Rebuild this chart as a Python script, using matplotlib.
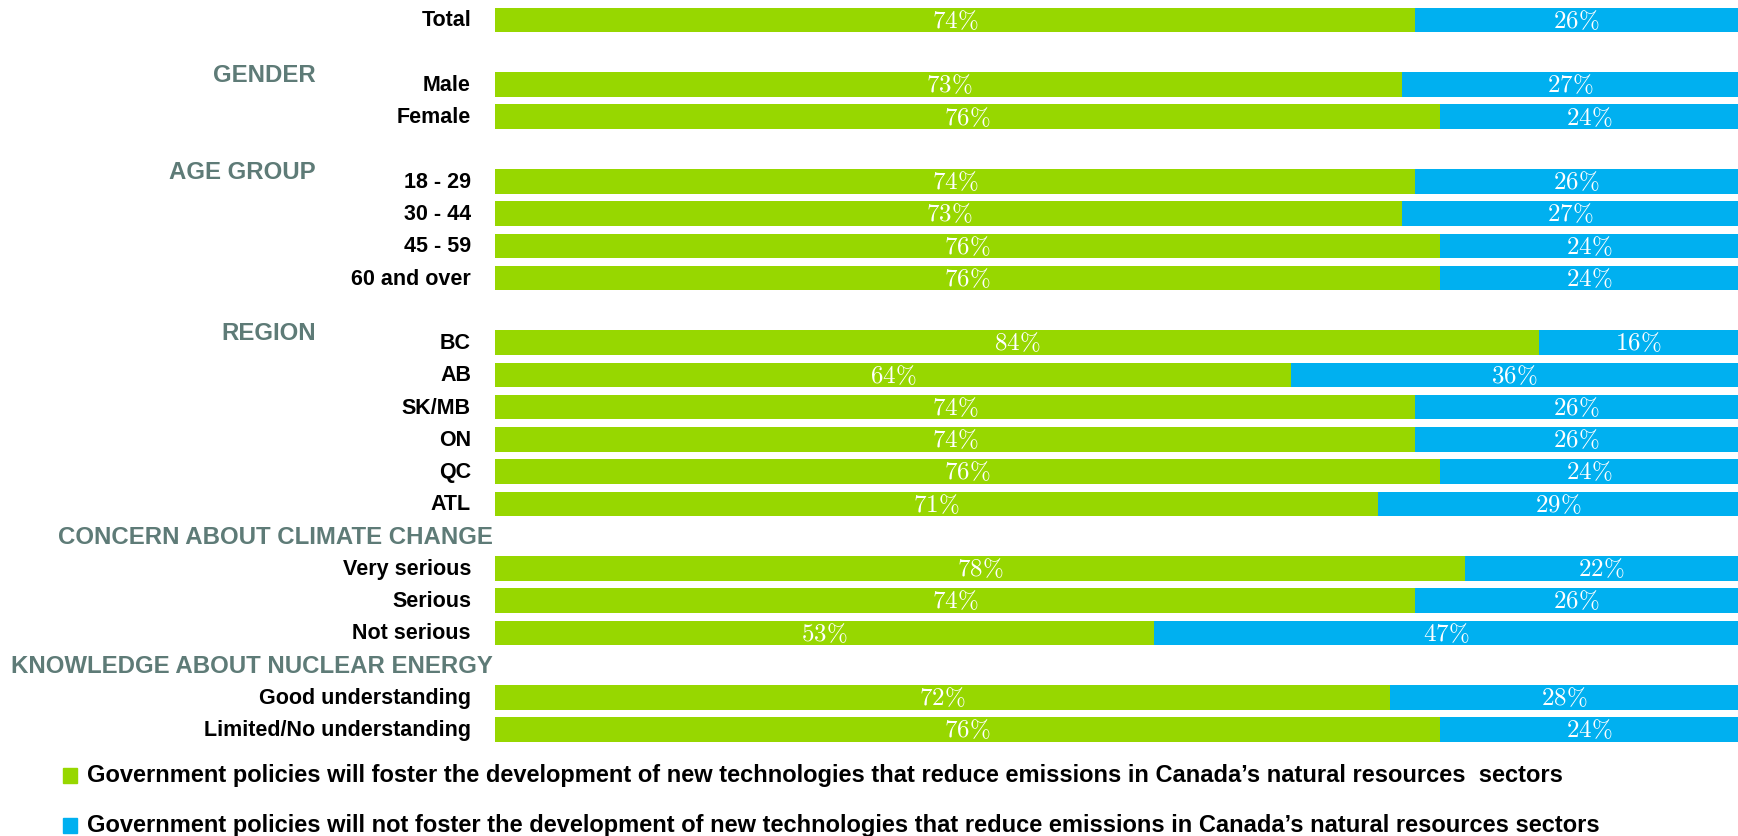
import matplotlib
matplotlib.use('Agg')
import matplotlib.pyplot as plt
import matplotlib.transforms as mtransforms
from matplotlib.patches import Rectangle

plt.rcParams['font.family'] = ['Liberation Sans', 'DejaVu Sans']
plt.rcParams['mathtext.fontset'] = 'cm'

# Data
categories = ['Total', 'Male', 'Female', '18 - 29', '30 - 44', '45 - 59', '60 and over',
              'BC', 'AB', 'SK/MB', 'ON', 'QC', 'ATL',
              'Very serious', 'Serious', 'Not serious',
              'Good understanding', 'Limited/No understanding']
foster = [74, 73, 76, 74, 73, 76, 76, 84, 64, 74, 74, 76, 71, 78, 74, 53, 72, 76]
not_foster = [26, 27, 24, 26, 27, 24, 24, 16, 36, 26, 26, 24, 29, 22, 26, 47, 28, 24]

# group header, index of first category in that group
groups = ['GENDER', 'AGE GROUP', 'REGION', 'CONCERN ABOUT CLIMATE CHANGE', 'KNOWLEDGE ABOUT NUCLEAR ENERGY']
group_start = [1, 3, 7, 13, 16]

legend_labels = [
    'Government policies will foster the development of new technologies that reduce emissions in Canada\u2019s natural resources  sectors',
    'Government policies will not foster the development of new technologies that reduce emissions in Canada\u2019s natural resources sectors',
]

green = '#97D700'
blue = '#00B0F0'
header_col = '#5E7B77'

# slot positions: one blank slot before each group
slots = []
s = 0
for i in range(len(categories)):
    if i in group_start:
        s += 1
    slots.append(s)
    s += 1

fig = plt.figure(figsize=(17.38, 8.37), dpi=100)
ax = fig.add_axes([495 / 1738, 0, 1 - 495 / 1738, 1])

ax.barh(slots, foster, height=0.76, color=green)
ax.barh(slots, not_foster, left=foster, height=0.76, color=blue)

for y, g, b in zip(slots, foster, not_foster):
    ax.text(g / 2, y, f'${g}\\%$', ha='center', va='center', color='white', fontsize=18)
    ax.text(g + b / 2, y, f'${b}\\%$', ha='center', va='center', color='white', fontsize=18)

ax.set_xlim(0, 100)
ax.set_ylim(25.3, -0.651)
ax.axis('off')

trans = mtransforms.blended_transform_factory(fig.transFigure, ax.transData)
for y, name in zip(slots, categories):
    ax.text(471 / 1738, y, name, transform=trans, ha='right', va='center',
            fontsize=15.5, fontweight='bold', color='black')

for gname, start in zip(groups, group_start):
    y0 = slots[start]
    if len(gname) > 12:
        ax.text(493 / 1738, y0 - 1, gname, transform=trans, ha='right', va='center',
                fontsize=17.3, fontweight='bold', color=header_col)
    else:
        ax.text(316 / 1738, y0 - 0.3, gname, transform=trans, ha='right', va='center',
                fontsize=17.3, fontweight='bold', color=header_col)

# legend
for k, (lab, col) in enumerate(zip(legend_labels, [green, blue])):
    ypix = 776 + k * 50
    yf = 1 - ypix / 837
    fig.patches.append(Rectangle((63 / 1738, yf - 7.5 / 837), 14 / 1738, 15 / 837,
                                 transform=fig.transFigure, color=col))
    fig.text(87 / 1738, yf, lab, ha='left', va='center', fontsize=17,
             fontweight='bold', color='black')

fig.savefig('out.png', dpi=100)
